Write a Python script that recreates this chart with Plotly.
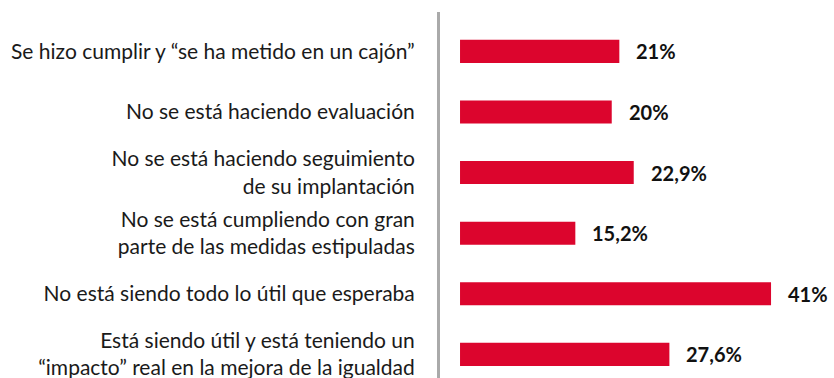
import plotly.graph_objects as go

# Survey answers about the equality plan, top to bottom
categories = [
    "Se hizo cumplir y “se ha metido en un cajón”",
    "No se está haciendo evaluación",
    "No se está haciendo seguimiento<br>de su implantación",
    "No se está cumpliendo con gran<br>parte de las medidas estipuladas",
    "No está siendo todo lo útil que esperaba",
    "Está siendo útil y está teniendo un<br>“impacto” real en la mejora de la igualdad",
]
values = [21, 20, 22.9, 15.2, 41, 27.6]
value_labels = ["21%", "20%", "22,9%", "15,2%", "41%", "27,6%"]

RED = "#DC052D"

fig = go.Figure(
    go.Bar(
        x=values,
        y=categories,
        orientation="h",
        marker=dict(color=RED, line=dict(width=0)),
        hoverinfo="skip",
    )
)

for cat, val, lab in zip(categories, values, value_labels):
    fig.add_annotation(
        x=val, y=cat, text=f"<b>{lab}</b>",
        xanchor="left", yanchor="middle", xshift=15, showarrow=False,
        font=dict(family="Lato", size=20, color="#111111"),
    )

fig.update_layout(
    width=834, height=378,
    margin=dict(l=440, r=0, t=12, b=0),
    paper_bgcolor="white", plot_bgcolor="white",
    bargap=0.62,
    showlegend=False,
    font=dict(family="Lato", size=21, color="#1a1a1a"),
    xaxis=dict(range=[-2.64, 49.3], visible=False, fixedrange=True),
    yaxis=dict(
        range=[5.39, -0.65],
        showline=True, linecolor="#AAAAAA", linewidth=3,
        showgrid=False, zeroline=False, ticks="",
        ticklabelstandoff=18,
        tickfont=dict(family="Lato", size=21, color="#1a1a1a"),
    ),
)

fig.write_html("out.html")
